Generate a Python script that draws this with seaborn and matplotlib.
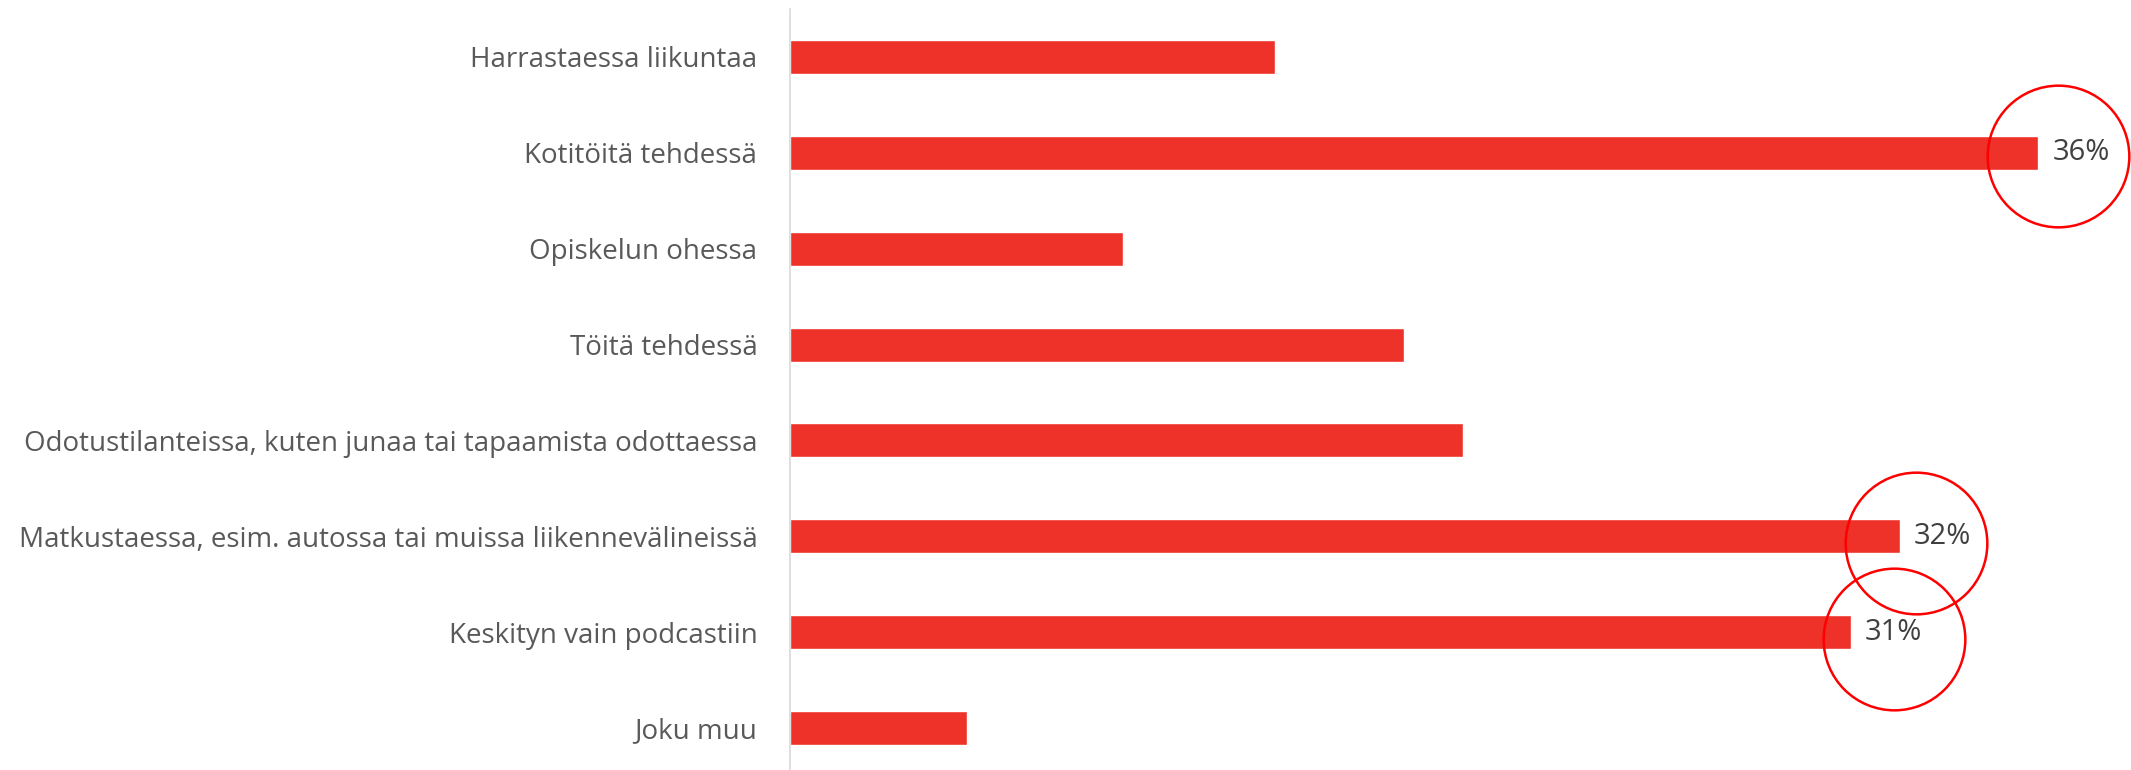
"""
Podcast listening situations — horizontal bar chart with highlighted values.
"""

import matplotlib
matplotlib.use("Agg")
import matplotlib.pyplot as plt
import matplotlib.transforms as mtransforms
import pandas as pd
import seaborn as sns

# --- data -----------------------------------------------------------------
categories = [
    "Harrastaessa liikuntaa",
    "Kotitöitä tehdessä",
    "Opiskelun ohessa",
    "Töitä tehdessä",
    "Odotustilanteissa, kuten junaa tai tapaamista odottaessa",
    "Matkustaessa, esim. autossa tai muissa liikennevälineissä",
    "Keskityn vain podcastiin",
    "Joku muu",
]
shares = [14.0, 36.0, 9.6, 17.7, 19.4, 32.0, 30.6, 5.1]
# only these bars carry a value label and a red circle
labels = ["", "36%", "", "", "", "32%", "31%", ""]

# circle offsets from bar end (points, x right / y up)
circle_offsets = {1: (14, -2), 5: (11.5, -4.5), 6: (31, -5)}

BAR_RED    = "#EE3129"
CIRCLE_RED = "#FF0000"
TEXT_GREY  = "#595959"
VALUE_GREY = "#404040"
AXIS_GREY  = "#D9D9D9"

sns.set_theme(style="white")
plt.rcParams["font.family"] = ["Open Sans", "DejaVu Sans"]

df = pd.DataFrame({"category": categories, "share": shares})

fig = plt.figure(figsize=(21.31, 7.70), dpi=100)
ax = fig.add_axes([790 / 2131, 0, 1 - 790 / 2131, 761 / 770])

sns.barplot(data=df, x="share", y="category", orient="h",
            color=BAR_RED, saturation=1, width=0.355, ax=ax)

ax.set_xlim(0, 38.67)
ax.set_ylim(7.438, -0.5)

# value labels
ax.bar_label(ax.containers[0], labels=labels, padding=10,
             fontsize=21, color=VALUE_GREY)

# red highlight circles
for idx, (dx, dy) in circle_offsets.items():
    trans = mtransforms.offset_copy(ax.transData, fig=fig, x=dx, y=dy,
                                    units="points")
    ax.plot(shares[idx], idx, marker="o", markersize=102,
            markerfacecolor="none", markeredgecolor=CIRCLE_RED,
            markeredgewidth=1.8, transform=trans, clip_on=False)

ax.set_xlabel("")
ax.set_ylabel("")
ax.set_xticks([])
ax.tick_params(axis="y", length=0, pad=23.5, labelsize=20,
               labelcolor=TEXT_GREY)

for side in ["top", "right", "bottom"]:
    ax.spines[side].set_visible(False)
ax.spines["left"].set_color(AXIS_GREY)
ax.spines["left"].set_linewidth(1.2)

fig.savefig("out.png", dpi=100)
